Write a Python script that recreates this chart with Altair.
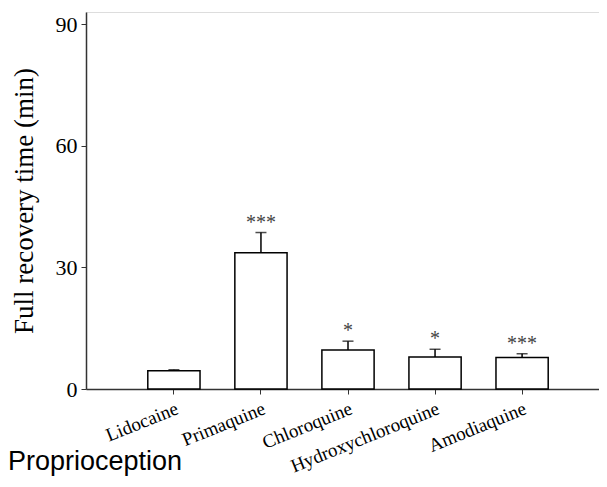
import altair as alt
import pandas as pd

drugs = ["Lidocaine", "Primaquine", "Chloroquine", "Hydroxychloroquine", "Amodiaquine"]
means = [4.5, 33.6, 9.6, 7.9, 7.8]
sems = [0.25, 5.0, 2.2, 1.9, 0.9]
stars = ["", "***", "*", "*", "***"]
y_ticks = [0, 30, 60, 90]

df = pd.DataFrame({"drug": drugs, "mean": means, "sem": sems, "sig": stars})
df["upper"] = df["mean"] + df["sem"]

SERIF = "Liberation Serif"
YTITLE = "Full recovery time (min)"

x_enc = alt.X(
    "drug:N",
    sort=drugs,
    scale=alt.Scale(paddingInner=0.4, paddingOuter=0.71, range=[0, 524]),
    axis=alt.Axis(
        title=None, labelAngle=-22, labelFont=SERIF, labelFontSize=19,
        labelColor="black", domainColor="#333", tickColor="#333",
        tickSize=5, domainWidth=1.5, tickWidth=1, labelPadding=5,
    ),
)
y_scale = alt.Scale(domain=[0, 93], nice=False)
y_axis = alt.Axis(
    values=y_ticks, grid=False, labelFont=SERIF, labelFontSize=22,
    labelColor="black", domainColor="#333", tickColor="#333", tickSize=5,
    domainWidth=1.5, labelPadding=4, titleFont=SERIF, titleFontSize=27,
    titleFontWeight="normal", titleColor="black", titlePadding=17,
)

base = alt.Chart(df)

bars = base.mark_bar(fill="white", stroke="black", strokeWidth=1.5).encode(
    x=x_enc, y=alt.Y("mean:Q", scale=y_scale, axis=y_axis, title=YTITLE)
)
err = base.mark_rule(color="black", strokeWidth=1.5).encode(
    x=x_enc, y=alt.Y("mean:Q", scale=y_scale, axis=y_axis, title=YTITLE), y2="upper:Q"
)
cap = base.mark_tick(color="black", thickness=1.5, size=11).encode(
    x=x_enc, y=alt.Y("upper:Q", scale=y_scale, axis=y_axis, title=YTITLE)
)
sig = base.mark_text(font=SERIF, fontSize=20, color="#444", baseline="alphabetic", dy=-4).encode(
    x=x_enc, y=alt.Y("upper:Q", scale=y_scale, axis=y_axis, title=YTITLE), text="sig:N"
)

chart = (
    alt.layer(bars, err, cap, sig)
    .properties(
        width=513, height=377, autosize="none",
        padding={"left": 78, "top": 4, "right": 0, "bottom": 90},
        title=alt.TitleParams(
            "Proprioception", orient="bottom", anchor="start", frame="group",
            font="Liberation Sans", fontSize=27, fontWeight="normal",
            color="black", dx=-78, offset=-27,
        ),
    )
    .configure_view(stroke=None)
    .configure(background="white")
)

chart.save("out.html", embed_options={"renderer": "svg", "actions": False})
